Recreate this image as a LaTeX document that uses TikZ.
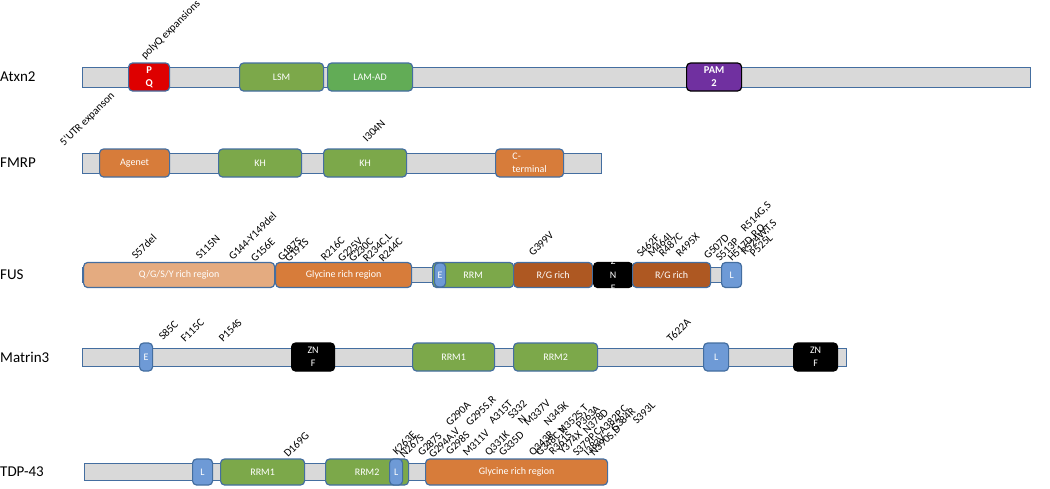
\documentclass[tikz,border=0pt]{standalone}
\usepackage{fontspec}
\setmainfont{Carlito}
\usetikzlibrary{positioning}
\usepackage{xcolor}
\definecolor{bargray}{RGB}{217,217,217}
\definecolor{edgeblue}{RGB}{68,110,160}
\definecolor{pqred}{RGB}{222,0,0}
\definecolor{lsmgreen}{RGB}{124,168,74}
\definecolor{lamgreen}{RGB}{98,172,86}
\definecolor{pampurple}{RGB}{112,48,160}
\definecolor{orangedom}{RGB}{215,124,58}
\definecolor{qgsyorange}{RGB}{228,171,128}
\definecolor{rgbrown}{RGB}{174,88,34}
\definecolor{motifblue}{RGB}{110,154,214}
\tikzstyle{protein} = [anchor=west, inner sep=0pt, font=\fontsize{15}{18}\selectfont]
\tikzstyle{backbone} = [draw=edgeblue, fill=bargray, line width=1pt, minimum height=20pt, inner sep=0pt, anchor=west]
\tikzstyle{dombox} = [draw=edgeblue, line width=1.2pt, rounded corners=4pt, text=white, align=center, minimum height=28pt, inner sep=0pt, anchor=west, font=\fontsize{10}{12.5}\selectfont]
\tikzstyle{fusdom} = [dombox, minimum height=25pt]
\tikzstyle{tdpdom} = [dombox, minimum height=26pt]
\tikzstyle{mut} = [rotate=45, anchor=base west, inner sep=0pt, font=\fontsize{11}{12}\selectfont]

\begin{document}
\begin{tikzpicture}[x=1pt, y=-1pt]
\useasboundingbox (0,0) rectangle (1050,488);

% Atxn2
\node[protein] (atxn2) at (0,77) {Atxn2};
\node[backbone, minimum width=948pt] (atxn2bar) at (82,77) {};
\node[dombox, fill=pqred, minimum width=41pt, font=\fontsize{10.5}{13}\selectfont\bfseries] (pq) at (128,77) {P\\Q};
\node[dombox, fill=lsmgreen, minimum width=84pt] (lsm) at (239,77) {LSM};
\node[dombox, fill=lamgreen, minimum width=85pt] (lamad) at (327,77) {LAM-AD};
\node[dombox, draw=black, fill=pampurple, minimum width=55pt, font=\fontsize{10.5}{13}\selectfont\bfseries] (pam2) at (686,77) {PAM\\2};
\node[mut] (polyq) at (145,60) {polyQ expansions};

% FMRP
\node[protein] (fmrp) at (0,163) {FMRP};
\node[backbone, minimum width=519pt] (fmrpbar) at (82,163) {};
\node[dombox, fill=orangedom, minimum width=70pt] (agenet) at (99,163) {Agenet};
\node[dombox, fill=lsmgreen, minimum width=83pt] (kh1) at (218,163) {KH};
\node[dombox, fill=lsmgreen, minimum width=83pt] (kh2) at (323,163) {KH};
\node[dombox, fill=orangedom, minimum width=68pt, align=left] (cterm) at (495,163) {C-\\terminal};
\node[mut] (utr) at (64,147) {5'UTR expanson};
\node[mut] (i304n) at (367,143) {I304N};

% FUS
\node[protein] (fus) at (0,275) {FUS};
\node[backbone, minimum width=653pt, minimum height=15pt] (fusbar) at (82,275) {};
\node[fusdom, fill=qgsyorange, minimum width=191pt] (qgsy) at (83,275) {Q/G/S/Y rich region};
\node[fusdom, fill=orangedom, minimum width=136pt] (glyfus) at (275,275) {Glycine rich region};
\node[fusdom, fill=lsmgreen, minimum width=81pt] (rrmfus) at (432,275) {RRM};
\node[fusdom, fill=motifblue, minimum width=11pt, minimum height=24pt] (efus) at (434,275) {E};
\node[fusdom, fill=rgbrown, minimum width=79pt] (rgone) at (513,275) {R/G rich};
\node[fusdom, draw=black, fill=black, minimum width=39pt] (znffus) at (593,275) {};
\begin{scope}
\clip (znffus.south west) rectangle (znffus.north east);
\node[text=white, align=center, inner sep=0pt, font=\fontsize{10}{13.5}\selectfont] (znffustext) at (znffus.center) {Z\\N\\F};
\end{scope}
\node[fusdom, fill=rgbrown, minimum width=78pt] (rgtwo) at (632,275) {R/G rich};
\node[fusdom, fill=motifblue, minimum width=20pt] (lfus) at (721,275) {L};
% FUS mutations
\node[mut] (s57del) at (136,260) {S57del};
\node[mut] (s115n) at (200,260) {S115N};
\node[mut] (g144del) at (233,261) {G144-Y149del};
\node[mut] (g156e) at (255,263) {G156E};
\node[mut] (g187s) at (282,262) {G187S};
\node[mut] (g191s) at (289,263) {G191S};
\node[mut] (r216c) at (325,262) {R216C};
\node[mut] (g225v) at (342,263) {G225V};
\node[mut] (g230c) at (353,263) {G230C};
\node[mut] (r234cl) at (367,263) {R234C,L};
\node[mut] (r244c) at (383,263) {R244C};
\node[mut] (g399v) at (533,257) {G399V};
\node[mut] (s462f) at (641,258) {S462F};
\node[mut] (m464i) at (652,258) {M464I};
\node[mut] (r487c) at (663,258) {R487C};
\node[mut] (r495x) at (680,258) {R495X};
\node[mut] (g507d) at (708,260) {G507D};
\node[mut] (s513p) at (720,262) {S513P};
\node[mut] (h517d) at (732,262) {H517D,P,Q};
\node[mut] (r524w) at (745,256) {R524W,T,S};
\node[mut] (p525l) at (754,258) {P525L};
\node[mut] (r514g) at (745,233) {R514G,S};

% Matrin3
\node[protein] (matrin3) at (0,357) {Matrin3};
\node[backbone, minimum width=764pt, minimum height=18pt] (matbar) at (82,357) {};
\node[dombox, fill=motifblue, minimum width=13pt] (emat) at (139,357) {E};
\node[dombox, draw=black, fill=black, minimum width=43pt] (znfone) at (291,357) {ZN\\F};
\node[dombox, fill=lsmgreen, minimum width=82pt] (rrmone) at (412,357) {RRM1};
\node[dombox, fill=lsmgreen, minimum width=84pt] (rrmtwo) at (513,357) {RRM2};
\node[dombox, fill=motifblue, minimum width=25pt] (lmat) at (703,357) {L};
\node[dombox, draw=black, fill=black, minimum width=44pt] (znftwo) at (793,357) {ZN\\F};
% Matrin3 mutations
\node[mut] (s85c) at (163,341) {S85C};
\node[mut] (f115c) at (185,343) {F115C};
\node[mut] (p154s) at (223,343) {P154S};
\node[mut] (t622a) at (671,343) {T622A};

% TDP-43
\node[protein] (tdp43) at (0,472) {TDP-43};
\node[backbone, minimum width=523pt, minimum height=17pt] (tdpbar) at (84,472) {};
\node[tdpdom, fill=motifblue, minimum width=20pt] (ltdp) at (192,472) {L};
\node[tdpdom, fill=lsmgreen, minimum width=84pt] (rrmtdpone) at (220,472) {RRM1};
\node[tdpdom, fill=lsmgreen, minimum width=83pt] (rrmtdptwo) at (325,472) {RRM2};
\node[tdpdom, fill=motifblue, minimum width=13pt] (ltdptwo) at (389,472) {L};
\node[tdpdom, fill=orangedom, minimum width=182pt] (glytdp) at (425,472) {Glycine rich region};
% TDP-43 mutations
\node[mut] (d169g) at (288,458) {D169G};
\node[mut] (k263e) at (397,456) {K263E};
\node[mut] (n267s) at (404,459) {N267S};
\node[mut] (g287s) at (422,457) {G287S};
\node[mut] (g294a) at (433,459) {G294A,V};
\node[mut] (g298s) at (450,456) {G298S};
\node[mut] (m311v) at (467,457) {M311V};
\node[mut] (q331k) at (489,457) {Q331K};
\node[mut] (g335d) at (503,457) {G335D};
\node[mut] (q343r) at (533,457) {Q343R};
\node[mut] (g348c) at (540,457) {G348C,V};
\node[mut] (r361s) at (553,456) {R361S};
\node[mut] (y374x) at (563,455) {Y374X};
\node[mut] (s379p) at (577,457) {S379P,C};
\node[mut] (i383v) at (588,457) {I383V};
\node[mut] (n390s) at (594,457) {N390S,D};
\node[mut] (g290a) at (450,427) {G290A};
\node[mut] (g295s) at (470,427) {G295S,R};
\node[mut] (a315t) at (493,425) {A315T};
\node[mut] (s332) at (512,420) {S332};
\node[mut] (nsingle) at (522,425) {N};
\node[mut] (m337v) at (528,427) {M337V};
\node[mut] (n345k) at (548,427) {N345K};
\node[mut] (n352s) at (563,435) {N352S,T};
\node[mut] (p363a) at (580,430) {P363A};
\node[mut] (n378d) at (587,435) {N378D};
\node[mut] (a382p) at (603,435) {A382P,C};
\node[mut] (g384r) at (615,433) {G384R};
\node[mut] (s393l) at (637,425) {S393L};
\end{tikzpicture}
\end{document}
